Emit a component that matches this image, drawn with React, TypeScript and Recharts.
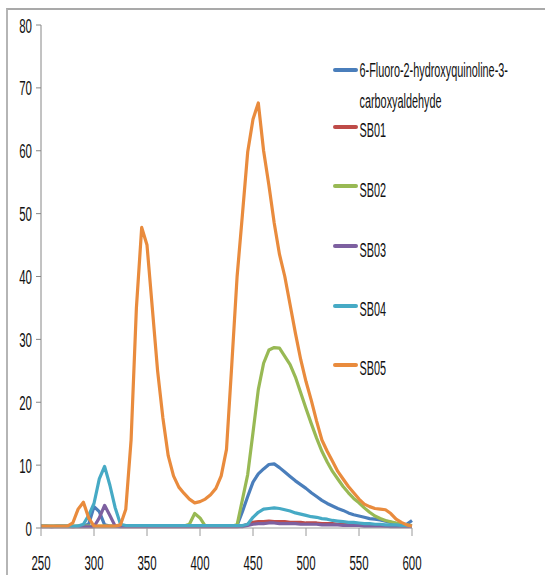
import React from "react";
import { LineChart, Line, XAxis, YAxis } from "recharts";

const wavelengths = [
  250, 255, 260, 265, 270, 275, 280, 285, 290, 295, 300, 305, 310, 315, 320, 325, 330, 335,
  340, 345, 350, 355, 360, 365, 370, 375, 380, 385, 390, 395, 400, 405, 410, 415, 420, 425,
  430, 435, 440, 445, 450, 455, 460, 465, 470, 475, 480, 485, 490, 495, 500, 505, 510, 515,
  520, 525, 530, 535, 540, 545, 550, 555, 560, 565, 570, 575, 580, 585, 590, 595, 600,
];

const fluoro = [
  0.3, 0.3, 0.2, 0.3, 0.3, 0.3, 0.2, 0.3, 0.4,
  0.6, 3.4, 2.6, 0.5, 0.3,
  0.3, 0.3, 0.3, 0.3, 0.3, 0.3, 0.3, 0.3, 0.3, 0.3, 0.3, 0.3, 0.3, 0.3, 0.3, 0.3, 0.3, 0.3, 0.3, 0.3, 0.3, 0.3, 0.3,
  0.4, 2.6, 5.0, 7.3, 8.6, 9.4, 10.1, 10.2, 9.6, 8.9, 8.2, 7.5, 6.9, 6.3, 5.6, 5.0, 4.4, 3.9,
  3.5, 3.1, 2.8, 2.4, 2.1, 1.9, 1.7, 1.5, 1.4, 1.3, 1.1, 0.9, 0.7, 0.6, 0.6, 1.2,
];

const sb01 = [
  0.2, 0.2, 0.2, 0.2, 0.2, 0.2, 0.2, 0.2, 0.2, 0.2, 0.2, 0.2, 0.2, 0.2, 0.2, 0.2, 0.2, 0.2, 0.2,
  0.2, 0.2, 0.2, 0.2, 0.2, 0.2, 0.2, 0.2, 0.2, 0.2, 0.2, 0.2, 0.2, 0.2, 0.2, 0.2, 0.2, 0.2, 0.2,
  0.3, 0.6, 0.9, 1.0, 1.0, 1.1, 1.0, 1.0, 1.0, 0.9, 0.9, 0.9, 0.8, 0.8, 0.8, 0.7, 0.7, 0.7,
  0.6, 0.6, 0.6, 0.5, 0.5, 0.5, 0.4, 0.4, 0.4, 0.3, 0.3, 0.3, 0.3, 0.3, 0.3,
];

const sb02 = [
  0.3, 0.3, 0.3, 0.3, 0.3, 0.3, 0.3, 0.3, 0.3, 0.3, 0.3, 0.3, 0.3, 0.3,
  0.3, 0.3, 0.3, 0.3, 0.3, 0.3, 0.3, 0.3, 0.3, 0.3, 0.3, 0.3, 0.3, 0.3,
  0.6, 2.3, 1.6, 0.3,
  0.3, 0.3, 0.3, 0.3, 0.3,
  0.5, 4.5, 8.5, 15.2, 22, 26.2, 28.3, 28.7, 28.6, 27.3, 26, 24, 21.5, 19.0, 16.6, 14.3, 12.2,
  10.5, 9.0, 7.8, 6.6, 5.6, 4.7, 4.0, 3.2, 2.5, 1.9, 1.5, 1.2, 1.0, 0.8, 0.6, 0.5, 0.4,
];

const sb03 = [
  0.2, 0.2, 0.2, 0.2, 0.2, 0.2, 0.2, 0.2, 0.2, 0.2, 0.2,
  1.6, 3.6, 2.0, 0.3,
  0.2, 0.2, 0.2, 0.2, 0.2, 0.2, 0.2, 0.2, 0.2, 0.2, 0.2, 0.2,
  0.2, 0.2, 0.2, 0.2, 0.2, 0.2, 0.2, 0.2, 0.2, 0.2, 0.2, 0.2,
  0.4, 0.6, 0.7, 0.7, 0.8, 0.8, 0.7, 0.7, 0.7, 0.7, 0.6, 0.6, 0.6, 0.6, 0.5, 0.5,
  0.5, 0.5, 0.4, 0.4, 0.4, 0.4, 0.3, 0.3, 0.3, 0.3, 0.3, 0.2, 0.2, 0.2, 0.2, 0.2,
];

const sb04 = [
  0.3, 0.3, 0.3, 0.3, 0.3, 0.3, 0.3, 0.3,
  0.6, 2.0, 3.9, 7.8, 9.8, 6.8, 3.2, 0.6,
  0.4, 0.4, 0.4, 0.4, 0.4, 0.4, 0.4, 0.4, 0.4, 0.4, 0.4, 0.4,
  0.4, 0.4, 0.4, 0.4, 0.4, 0.4, 0.4, 0.4, 0.4, 0.4, 0.4,
  0.6, 1.7, 2.5, 3.0, 3.1, 3.2, 3.1, 2.9, 2.7, 2.4, 2.2, 2.0, 1.8, 1.7, 1.5, 1.4,
  1.2, 1.1, 1.0, 0.9, 0.9, 0.8, 0.7, 0.7, 0.6, 0.6, 0.5, 0.5, 0.5, 0.4, 0.4, 0.4,
];

const sb05 = [
  0.3, 0.3, 0.3, 0.3, 0.3, 0.3,
  0.8, 3.0, 4.1, 1.6, 0.3,
  0.3, 0.3, 0.3, 0.3, 0.5,
  3.0, 14, 35, 47.8, 45, 35, 25, 17.5, 11.5, 8.3, 6.5, 5.5, 4.6, 4.0, 4.2, 4.6, 5.3, 6.3,
  8.3, 12.5, 26, 40, 49.8, 59.8, 65, 67.6, 60, 54.5, 48.5, 43.5, 40, 35.5, 31, 26.8,
  23.3, 20.3, 17, 14, 12.2, 10.6, 9, 7.8, 6.6, 5.6, 4.6, 3.8, 3.4, 3.1, 3.0, 2.9, 2.3,
  1.4, 0.9, 0.5, 0.3,
];

const seriesNames = [
  "6-Fluoro-2-hydroxyquinoline-3-carboxyaldehyde",
  "SB01",
  "SB02",
  "SB03",
  "SB04",
  "SB05",
];
const seriesColors = ["#4a7ebb", "#be4b48", "#98b954", "#7d60a0", "#46aac5", "#e98b3d"];
const seriesValues = [fluoro, sb01, sb02, sb03, sb04, sb05];

const xTicks = [250, 300, 350, 400, 450, 500, 550, 600];
const yTicks = [0, 10, 20, 30, 40, 50, 60, 70, 80];

const legendLines = [
  ["6-Fluoro-2-hydroxyquinoline-3-", "carboxyaldehyde"],
  ["SB01"],
  ["SB02"],
  ["SB03"],
  ["SB04"],
  ["SB05"],
];

const rows = wavelengths.map((w, i) => {
  const r: Record<string, number> = { wl: w };
  seriesValues.forEach((arr, k) => {
    r["s" + k] = arr[i];
  });
  return r;
});

const FONT = "'Liberation Sans', Arial, sans-serif";
const SX = 0.56;

const XTick = (props: any) => {
  const { x, payload } = props;
  return (
    <text
      transform={`translate(${x},570) scale(${SX},1)`}
      textAnchor="middle"
      fontSize={20.5}
      fontFamily={FONT}
      fill="#111"
    >
      {payload.value}
    </text>
  );
};

const YTick = (props: any) => {
  const { y, payload } = props;
  return (
    <text
      transform={`translate(32,${y + 7.5}) scale(${SX},1)`}
      textAnchor="end"
      fontSize={20.5}
      fontFamily={FONT}
      fill="#111"
    >
      {payload.value}
    </text>
  );
};

const legendMarkerY = [70, 127, 186, 246, 306, 365];
const legendBaseY = [77, 137, 197, 256.5, 315.5, 375];

export default function App() {
  return (
    <div
      style={{
        position: "absolute",
        left: 0,
        top: 0,
        width: 545,
        height: 575,
        overflow: "hidden",
        background: "#fff",
      }}
    >
      <div
        style={{
          position: "absolute",
          left: 6,
          top: 8,
          width: 600,
          height: 600,
          borderTop: "2.5px solid #a9a9a9",
          borderLeft: "2px solid #b5b5b5",
        }}
      />
      <div style={{ position: "absolute", left: 0, top: 0 }}>
        <LineChart
          width={545}
          height={575}
          data={rows}
          margin={{ top: 25, right: 133, bottom: 0, left: 0 }}
        >
          <XAxis
            dataKey="wl"
            type="number"
            domain={[250, 600]}
            ticks={xTicks}
            interval={0}
            height={47}
            tickSize={8}
            stroke="#9a9a9a"
            tick={(p: any) => <XTick {...p} />}
          />
          <YAxis
            type="number"
            domain={[0, 80]}
            ticks={yTicks}
            interval={0}
            width={41}
            tickSize={5}
            stroke="#868686"
            tick={(p: any) => <YTick {...p} />}
          />
          {seriesNames.map((name, k) => (
            <Line
              key={name}
              name={name}
              dataKey={"s" + k}
              type="linear"
              stroke={seriesColors[k]}
              strokeWidth={3.2}
              strokeLinejoin="round"
              dot={false}
              activeDot={false}
              isAnimationActive={false}
            />
          ))}
        </LineChart>
      </div>
      <svg
        width={545}
        height={575}
        style={{ position: "absolute", left: 0, top: 0, pointerEvents: "none" }}
      >
        {legendLines.map((lines, k) => (
          <g key={k}>
            <line
              x1={335}
              x2={356}
              y1={legendMarkerY[k]}
              y2={legendMarkerY[k]}
              stroke={seriesColors[k]}
              strokeWidth={4}
              strokeLinecap="round"
            />
            {lines.map((t, j) => (
              <text
                key={j}
                transform={`translate(359.5,${legendBaseY[k] + j * 31}) scale(0.53,1)`}
                fontSize={20.5}
                fontFamily={FONT}
                fill="#111"
              >
                {t}
              </text>
            ))}
          </g>
        ))}
      </svg>
    </div>
  );
}
